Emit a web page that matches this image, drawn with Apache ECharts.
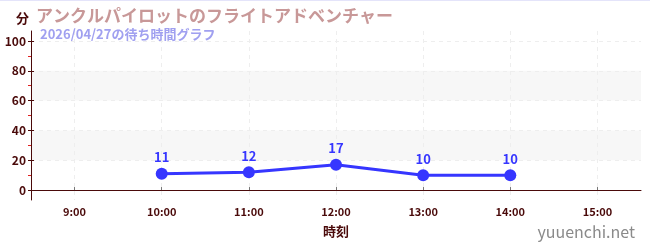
<!DOCTYPE html>
<html><head><meta charset="utf-8">
<script src="https://cdn.jsdelivr.net/npm/echarts@6/dist/echarts.min.js"></script>
<style>html,body{margin:0;padding:0;background:#fff}#c{width:650px;height:250px;box-sizing:border-box;border-top:1px solid #e4e4fa}</style>
</head><body><div id="c"></div>
<script>
const titleText = 'アンクルパイロットのフライトアドベンチャー';
const subtitleText = '2026/04/27の待ち時間グラフ';
const categories = ['9:00','10:00','11:00','12:00','13:00','14:00','15:00'];
const waitTimes = [null, 11, 12, 17, 10, 10, null];
const yTicks = [0, 20, 40, 60, 80, 100];
const yMinorTicks = [10, 30, 50, 70, 90];
const yMin = -6.67, yMax = 106.67;
const yName = '分', xName = '時刻', watermark = 'yuuenchi.net';

const FONT = '"Noto Sans CJK JP", "Noto Sans", sans-serif';
const AX = '#4a0a0a';
const chart = echarts.init(document.getElementById('c'), null, {renderer: 'canvas'});
const yBase = {
  type: 'value', min: yMin, max: yMax, position: 'left',
  axisLine: {show: false}, axisLabel: {show: false}, splitLine: {show: false}
};
chart.setOption({
  animation: false,
  textStyle: {fontFamily: FONT},
  title: [
    {text: titleText, left: 31, top: 1, textStyle: {fontFamily: FONT, fontSize: 17, fontWeight: 'bold', color: '#c89898'}},
    {text: subtitleText, left: 35, top: 22, textStyle: {fontFamily: FONT, fontSize: 13, fontWeight: 'bold', color: '#a0a0f0'}}
  ],
  graphic: [{type: 'text', right: 15, top: 223, style: {text: watermark, font: '16px ' + FONT, fill: '#8a8a8a'}}],
  grid: {left: 31, right: 9, top: 30, bottom: 50},
  xAxis: [{
    type: 'category', data: categories, boundaryGap: true,
    name: xName, nameLocation: 'middle', nameGap: 25,
    nameTextStyle: {fontFamily: FONT, fontSize: 13, fontWeight: 'bold', color: AX},
    axisLine: {lineStyle: {color: AX}},
    axisTick: {alignWithLabel: true, length: 3, lineStyle: {color: '#777'}},
    axisLabel: {fontFamily: FONT, fontSize: 11, fontWeight: 'bold', color: AX, margin: 6},
    splitLine: {show: true, alignWithLabel: true, lineStyle: {color: '#eeeeee', type: [4, 4]}}
  }, {
    type: 'category', data: categories, boundaryGap: true, position: 'bottom',
    axisLine: {show: false},
    axisTick: {show: true, inside: true, alignWithLabel: true, length: 3, lineStyle: {color: '#777'}},
    axisLabel: {show: false}, splitLine: {show: false}
  }],
  yAxis: [Object.assign({}, yBase, {
    name: yName, nameLocation: 'end', nameGap: 6,
    nameTextStyle: {fontFamily: FONT, fontSize: 13, fontWeight: 'bold', color: AX, align: 'right', padding: [0, 2, 0, 0]},
    axisLine: {show: true, lineStyle: {color: AX, width: 1}},
    axisTick: {show: true, length: 3, customValues: yTicks, lineStyle: {color: AX}},
    axisLabel: {show: true, fontFamily: FONT, fontSize: 12, fontWeight: 'bold', color: AX, margin: 5, customValues: yTicks},
    splitLine: {show: true, lineStyle: {color: '#eeeeee', type: [4, 4]}},
    splitArea: {show: true, areaStyle: {color: ['rgba(255,255,255,0)', '#f7f7f7']}}
  }), Object.assign({}, yBase, {
    axisTick: {show: true, inside: true, length: 3, customValues: yTicks, lineStyle: {color: AX}}
  }), Object.assign({}, yBase, {
    axisTick: {show: true, length: 3, customValues: yMinorTicks, lineStyle: {color: '#e02020'}}
  })],
  series: [{
    type: 'line', data: waitTimes, xAxisIndex: 0, yAxisIndex: 0,
    symbol: 'circle', symbolSize: 12, connectNulls: false,
    lineStyle: {color: '#3636ff', width: 3},
    itemStyle: {color: '#3636ff'},
    label: {show: true, position: 'top', distance: 4, fontFamily: FONT, fontSize: 13, fontWeight: 'bold', color: '#3636ff'}
  }]
});
</script></body></html>
